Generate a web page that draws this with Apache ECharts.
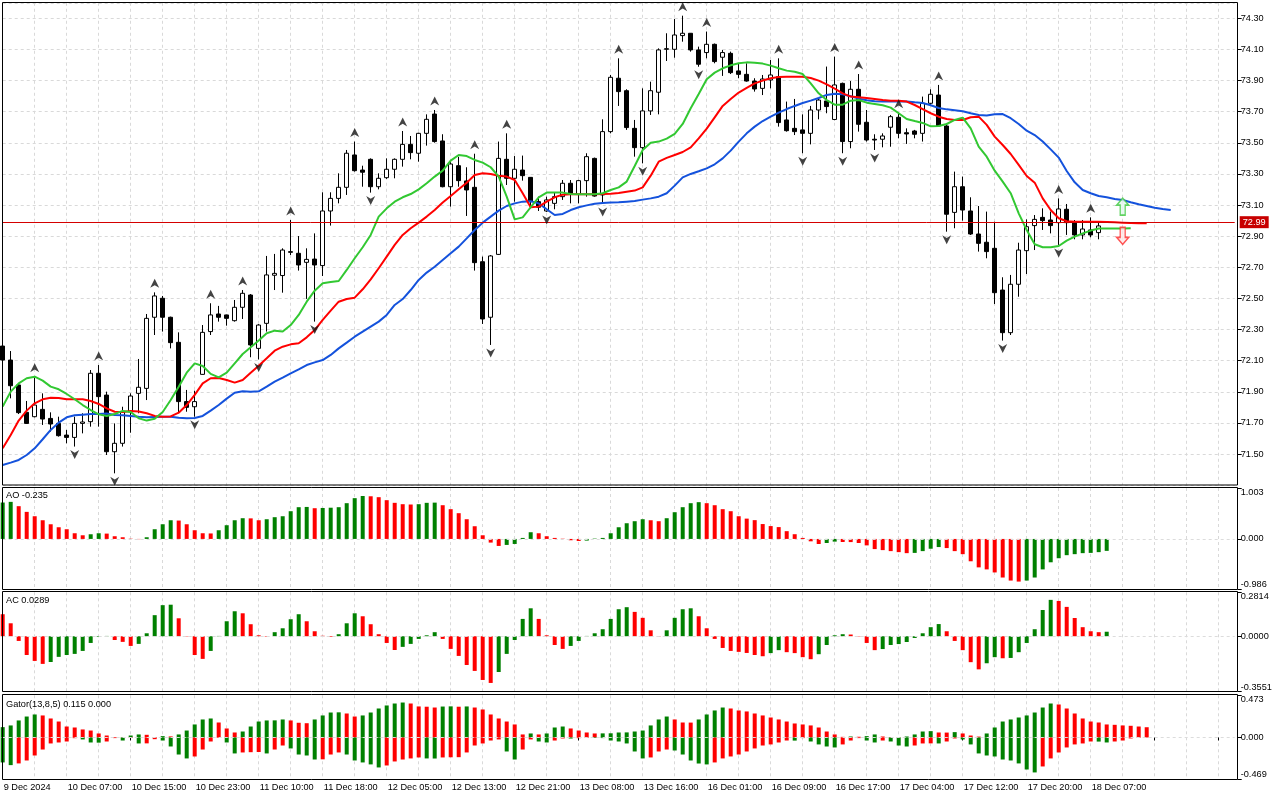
<!DOCTYPE html>
<html>
<head>
<meta charset="utf-8">
<title>Alligator, fractals, AO, AC, Gator</title>
<script src="https://cdn.jsdelivr.net/npm/echarts@6/dist/echarts.min.js"></script>
<style>
  html, body { margin: 0; padding: 0; background: #fff; }
  #chart { width: 1280px; height: 800px; }
</style>
</head>
<body>
<div id="chart"></div>
<script>
// hourly bars, 139 of them; extra empty slots on the right hold the shifted lines
const slotCount = 155

// one label every 8 bars, starting at bar 0
const tickLabels = ['9 Dec 2024', '10 Dec 07:00', '10 Dec 15:00', '10 Dec 23:00', '11 Dec 10:00', '11 Dec 18:00',
  '12 Dec 05:00', '12 Dec 13:00', '12 Dec 21:00', '13 Dec 08:00', '13 Dec 16:00', '16 Dec 01:00',
  '16 Dec 09:00', '16 Dec 17:00', '17 Dec 04:00', '17 Dec 12:00', '17 Dec 20:00', '18 Dec 07:00']

const opens = [
  72.194, 72.104, 71.944, 71.768, 71.740, 71.787, 71.729, 71.697, 71.622, 71.607,
  71.697, 71.708, 72.019, 71.879, 71.515, 71.569, 71.772, 71.890, 71.922, 72.379,
  72.501, 72.379, 72.218, 71.837, 71.804, 72.012, 72.287, 72.400, 72.394, 72.357,
  72.443, 72.522, 72.179, 72.340, 72.649, 72.647, 72.796, 72.790, 72.732, 72.753,
  72.711, 73.062, 73.143, 73.214, 73.422, 73.325, 73.394, 73.218, 73.276, 73.330,
  73.394, 73.490, 73.433, 73.561, 73.685, 73.512, 73.218, 73.353, 73.255, 73.214,
  72.736, 72.379, 72.783, 73.394, 73.272, 73.325, 73.278, 73.122, 73.062, 73.111,
  73.154, 73.240, 73.169, 73.257, 73.400, 73.165, 73.572, 73.915, 73.835, 73.593,
  73.469, 73.705, 73.825, 74.101, 74.101, 74.189, 74.204, 74.097, 74.080, 74.133,
  74.050, 74.075, 73.962, 73.940, 73.897, 73.850, 73.904, 73.925, 73.647, 73.593,
  73.583, 73.561, 73.711, 73.769, 73.650, 73.882, 73.508, 73.844, 73.632, 73.523,
  73.523, 73.600, 73.664, 73.565, 73.576, 73.561, 73.754, 73.807, 73.608, 73.053,
  73.218, 73.062, 72.914, 72.861, 72.822, 72.554, 72.280, 72.591, 72.807, 72.968,
  73.021, 73.004, 72.987, 73.073, 72.987, 72.908, 72.940, 72.923, 72.990]
const highs = [
  72.212, 72.162, 71.954, 71.841, 71.997, 71.890, 71.768, 71.740, 71.655, 71.740,
  71.762, 72.040, 72.072, 71.901, 71.697, 71.804, 71.890, 72.111, 72.400, 72.539,
  72.516, 72.383, 72.282, 71.912, 71.907, 72.329, 72.469, 72.452, 72.396, 72.490,
  72.554, 72.528, 72.335, 72.773, 72.786, 72.822, 73.004, 72.901, 72.822, 72.918,
  73.182, 73.182, 73.304, 73.454, 73.508, 73.353, 73.400, 73.304, 73.400, 73.400,
  73.576, 73.544, 73.565, 73.683, 73.711, 73.555, 73.390, 73.410, 73.343, 73.430,
  72.769, 72.779, 73.508, 73.561, 73.415, 73.418, 73.280, 73.154, 73.154, 73.180,
  73.261, 73.261, 73.262, 73.433, 73.405, 73.651, 73.936, 74.043, 73.844, 73.647,
  73.850, 73.893, 74.107, 74.204, 74.296, 74.317, 74.205, 74.118, 74.215, 74.138,
  74.097, 74.086, 74.011, 74.011, 73.915, 73.936, 74.032, 74.043, 73.765, 73.782,
  73.683, 73.737, 73.786, 73.990, 74.054, 73.887, 73.897, 73.942, 73.711, 73.555,
  73.561, 73.679, 73.694, 73.593, 73.583, 73.797, 73.844, 73.872, 73.625, 73.315,
  73.283, 73.150, 73.094, 73.058, 72.993, 72.636, 72.651, 72.858, 73.008, 73.036,
  73.079, 73.058, 73.143, 73.107, 73.004, 73.004, 73.021, 72.987, 72.995]
const lows = [
  72.094, 71.858, 71.757, 71.693, 71.736, 71.687, 71.644, 71.612, 71.569, 71.548,
  71.633, 71.676, 71.676, 71.494, 71.376, 71.548, 71.637, 71.762, 71.847, 72.265,
  72.287, 72.179, 71.762, 71.772, 71.740, 72.010, 72.265, 72.351, 72.325, 72.351,
  72.368, 72.122, 72.108, 72.287, 72.554, 72.537, 72.779, 72.679, 72.497, 72.351,
  72.644, 72.968, 73.111, 73.165, 73.315, 73.218, 73.180, 73.201, 73.268, 73.272,
  73.347, 73.394, 73.379, 73.482, 73.501, 73.214, 73.090, 73.218, 73.030, 72.679,
  72.336, 72.201, 72.779, 73.229, 73.122, 73.257, 73.079, 73.062, 73.056, 73.073,
  73.133, 73.111, 73.111, 73.154, 73.154, 73.107, 73.561, 73.737, 73.583, 73.411,
  73.368, 73.679, 73.683, 74.026, 74.047, 74.150, 74.086, 73.989, 74.043, 74.011,
  73.930, 73.942, 73.915, 73.893, 73.829, 73.807, 73.850, 73.604, 73.572, 73.550,
  73.433, 73.490, 73.651, 73.690, 73.645, 73.433, 73.465, 73.572, 73.508, 73.454,
  73.471, 73.475, 73.529, 73.493, 73.529, 73.508, 73.743, 73.604, 72.929, 72.951,
  73.000, 72.908, 72.801, 72.758, 72.464, 72.229, 72.265, 72.511, 72.657, 72.811,
  72.940, 72.918, 72.844, 72.908, 72.880, 72.880, 72.893, 72.880, 72.985]
const closes = [
  72.104, 71.939, 71.766, 71.697, 71.815, 71.725, 71.693, 71.618, 71.607, 71.697,
  71.706, 72.019, 71.869, 71.515, 71.569, 71.772, 71.873, 71.929, 72.372, 72.516,
  72.379, 72.216, 71.837, 71.800, 71.837, 72.282, 72.394, 72.379, 72.372, 72.443,
  72.533, 72.201, 72.329, 72.651, 72.661, 72.811, 72.801, 72.715, 72.751, 72.715,
  73.062, 73.143, 73.214, 73.433, 73.321, 73.311, 73.218, 73.272, 73.330, 73.394,
  73.490, 73.437, 73.561, 73.651, 73.508, 73.218, 73.364, 73.257, 73.197, 72.730,
  72.368, 72.773, 73.400, 73.272, 73.330, 73.289, 73.122, 73.086, 73.133, 73.154,
  73.240, 73.169, 73.257, 73.411, 73.158, 73.572, 73.921, 73.829, 73.598, 73.469,
  73.705, 73.835, 74.097, 74.105, 74.193, 74.204, 74.097, 74.005, 74.133, 74.022,
  74.080, 73.951, 73.940, 73.897, 73.846, 73.910, 73.936, 73.630, 73.578, 73.572,
  73.561, 73.711, 73.775, 73.733, 73.872, 73.508, 73.844, 73.619, 73.518, 73.518,
  73.544, 73.668, 73.561, 73.557, 73.555, 73.754, 73.812, 73.608, 73.041, 73.218,
  73.068, 72.914, 72.854, 72.801, 72.537, 72.280, 72.591, 72.811, 72.961, 73.008,
  73.000, 72.968, 73.075, 72.987, 72.908, 72.946, 72.908, 72.966, 72.990]

// alligator lines as drawn (already shifted 8 / 5 / 3 bars forward)
const jaw = [
  71.430, 71.445, 71.462, 71.494, 71.537, 71.595, 71.655, 71.702, 71.736, 71.749,
  71.753, 71.757, 71.757, 71.760, 71.751, 71.749, 71.745, 71.740, 71.736, 71.738,
  71.740, 71.740, 71.734, 71.730, 71.732, 71.745, 71.779, 71.815, 71.856, 71.894,
  71.903, 71.901, 71.903, 71.933, 71.965, 71.991, 72.019, 72.044, 72.072, 72.089,
  72.104, 72.137, 72.179, 72.216, 72.254, 72.287, 72.319, 72.351, 72.394, 72.458,
  72.496, 72.554, 72.619, 72.666, 72.704, 72.747, 72.790, 72.833, 72.886, 72.940,
  72.987, 73.026, 73.064, 73.094, 73.111, 73.122, 73.124, 73.111, 73.073, 73.036,
  73.043, 73.068, 73.086, 73.098, 73.109, 73.113, 73.116, 73.118, 73.122, 73.126,
  73.135, 73.143, 73.154, 73.176, 73.225, 73.278, 73.300, 73.317, 73.336, 73.362,
  73.400, 73.450, 73.508, 73.561, 73.604, 73.640, 73.668, 73.694, 73.717, 73.737,
  73.756, 73.771, 73.788, 73.808, 73.816, 73.812, 73.799, 73.784, 73.773, 73.767,
  73.765, 73.765, 73.765, 73.765, 73.760, 73.756, 73.741, 73.724, 73.715, 73.709,
  73.703, 73.690, 73.679, 73.675, 73.683, 73.685, 73.658, 73.621, 73.578, 73.550,
  73.508, 73.458, 73.405, 73.319, 73.246, 73.197, 73.176, 73.158, 73.150, 73.139,
  73.133, 73.118, 73.105, 73.094, 73.083, 73.075, 73.068]
const teeth = [
  71.537, 71.622, 71.715, 71.779, 71.826, 71.852, 71.862, 71.860, 71.852, 71.852,
  71.852, 71.841, 71.822, 71.794, 71.772, 71.770, 71.777, 71.774, 71.762, 71.745,
  71.740, 71.742, 71.766, 71.815, 71.880, 71.954, 71.987, 71.989, 71.976, 71.959,
  71.976, 72.023, 72.068, 72.115, 72.164, 72.190, 72.205, 72.212, 72.250, 72.297,
  72.362, 72.422, 72.479, 72.496, 72.505, 72.559, 72.623, 72.694, 72.769, 72.844,
  72.908, 72.951, 72.987, 73.026, 73.068, 73.116, 73.158, 73.201, 73.244, 73.293,
  73.304, 73.300, 73.289, 73.283, 73.261, 73.176, 73.086, 73.090, 73.122, 73.150,
  73.167, 73.169, 73.169, 73.169, 73.169, 73.171, 73.173, 73.178, 73.186, 73.193,
  73.214, 73.289, 73.379, 73.403, 73.422, 73.441, 73.471, 73.529, 73.591, 73.664,
  73.737, 73.782, 73.823, 73.853, 73.882, 73.900, 73.915, 73.923, 73.925, 73.925,
  73.925, 73.917, 73.900, 73.876, 73.848, 73.818, 73.797, 73.793, 73.788, 73.782,
  73.775, 73.771, 73.771, 73.765, 73.743, 73.717, 73.690, 73.668, 73.653, 73.647,
  73.647, 73.664, 73.668, 73.615, 73.540, 73.486, 73.428, 73.358, 73.287, 73.244,
  73.143, 73.068, 73.015, 72.996, 72.993, 72.993, 72.993, 72.993, 72.991, 72.989,
  72.987, 72.985, 72.983, 72.983]
const lips = [
  71.805, 71.901, 71.954, 71.987, 71.997, 71.972, 71.933, 71.916, 71.886, 71.852,
  71.815, 71.783, 71.755, 71.745, 71.757, 71.777, 71.770, 71.730, 71.715, 71.727,
  71.770, 71.847, 71.933, 72.023, 72.083, 72.066, 72.015, 71.993, 72.023, 72.083,
  72.143, 72.186, 72.229, 72.276, 72.293, 72.287, 72.329, 72.394, 72.479, 72.550,
  72.597, 72.606, 72.612, 72.683, 72.758, 72.829, 72.908, 73.026, 73.079, 73.122,
  73.150, 73.171, 73.201, 73.240, 73.283, 73.321, 73.386, 73.422, 73.415, 73.390,
  73.373, 73.343, 73.283, 73.154, 73.008, 73.021, 73.086, 73.150, 73.180, 73.180,
  73.180, 73.171, 73.169, 73.169, 73.169, 73.176, 73.197, 73.214, 73.251, 73.351,
  73.454, 73.501, 73.508, 73.527, 73.557, 73.621, 73.722, 73.814, 73.908, 73.951,
  73.979, 73.998, 74.011, 74.017, 74.015, 74.009, 73.996, 73.979, 73.964, 73.957,
  73.942, 73.882, 73.818, 73.775, 73.745, 73.745, 73.771, 73.775, 73.758, 73.750,
  73.741, 73.726, 73.690, 73.653, 73.640, 73.628, 73.606, 73.608, 73.621, 73.647,
  73.662, 73.593, 73.475, 73.411, 73.321, 73.251, 73.176, 73.047, 72.940, 72.848,
  72.829, 72.829, 72.837, 72.871, 72.897, 72.918, 72.936, 72.949, 72.949, 72.949,
  72.949, 72.951]

// bar indexes carrying a fractal
const upFractals = [4, 12, 19, 26, 30, 36, 44, 50, 54, 59, 63, 77, 85, 88, 97, 104, 107, 112, 117, 132, 136]
const downFractals = [9, 14, 24, 32, 39, 46, 61, 68, 75, 80, 87, 100, 105, 109, 118, 125, 132]

// the two hollow signal arrows right of the last bar
const signalUp = [[140, 73.09]]
const signalDown = [[140, 72.902]]

const ao = [
  0.717, 0.730, 0.645, 0.533, 0.447, 0.368, 0.289, 0.230, 0.191, 0.112,
  0.072, 0.092, 0.112, 0.105, 0.053, 0.033, 0.005, -0.005, 0.033, 0.191,
  0.289, 0.368, 0.362, 0.289, 0.171, 0.112, 0.108, 0.171, 0.270, 0.368,
  0.408, 0.405, 0.368, 0.388, 0.428, 0.447, 0.546, 0.625, 0.630, 0.605,
  0.610, 0.615, 0.625, 0.704, 0.803, 0.845, 0.840, 0.822, 0.763, 0.711,
  0.684, 0.678, 0.684, 0.711, 0.715, 0.664, 0.586, 0.507, 0.388, 0.250,
  0.072, -0.072, -0.138, -0.118, -0.099, 0.020, 0.132, 0.112, 0.053, 0.020,
  0.005, -0.026, -0.040, -0.033, 0.007, 0.020, 0.112, 0.230, 0.309, 0.349,
  0.388, 0.368, 0.349, 0.408, 0.526, 0.625, 0.704, 0.724, 0.704, 0.664,
  0.586, 0.546, 0.447, 0.400, 0.370, 0.293, 0.253, 0.233, 0.153, 0.093,
  0.020, -0.047, -0.100, -0.080, -0.053, -0.060, -0.062, -0.080, -0.127, -0.200,
  -0.220, -0.240, -0.260, -0.280, -0.275, -0.240, -0.193, -0.160, -0.180, -0.240,
  -0.300, -0.440, -0.560, -0.600, -0.660, -0.760, -0.820, -0.840, -0.820, -0.760,
  -0.600, -0.460, -0.380, -0.320, -0.300, -0.280, -0.275, -0.260, -0.235]
const ac = [
  0.141, 0.083, -0.030, -0.120, -0.158, -0.177, -0.165, -0.132, -0.120, -0.113,
  -0.094, -0.043, -0.004, 0.002, -0.024, -0.036, -0.062, -0.049, 0.019, 0.135,
  0.199, 0.202, 0.115, -0.002, -0.120, -0.145, -0.094, 0.002, 0.096, 0.160,
  0.147, 0.077, 0.006, -0.003, 0.026, 0.051, 0.109, 0.141, 0.096, 0.032,
  0.003, -0.004, 0.013, 0.083, 0.147, 0.128, 0.077, 0.013, -0.043, -0.088,
  -0.068, -0.049, -0.017, 0.006, 0.026, -0.017, -0.081, -0.126, -0.184, -0.222,
  -0.280, -0.299, -0.229, -0.113, -0.024, 0.111, 0.179, 0.111, 0.006, -0.056,
  -0.081, -0.062, -0.030, 0.002, 0.019, 0.045, 0.111, 0.173, 0.186, 0.156,
  0.118, 0.038, -0.002, 0.038, 0.118, 0.173, 0.179, 0.128, 0.051, -0.017,
  -0.075, -0.094, -0.100, -0.107, -0.120, -0.128, -0.108, -0.089, -0.102, -0.108,
  -0.134, -0.147, -0.115, -0.056, 0.006, 0.013, 0.011, -0.002, -0.043, -0.089,
  -0.082, -0.056, -0.050, -0.037, -0.011, 0.019, 0.058, 0.078, 0.032, -0.030,
  -0.089, -0.166, -0.212, -0.173, -0.134, -0.141, -0.139, -0.102, -0.043, 0.045,
  0.168, 0.233, 0.226, 0.188, 0.117, 0.058, 0.032, 0.026, 0.0289]
const gatorUp = [
  0.116, 0.135, 0.191, 0.235, 0.258, 0.247, 0.213, 0.179, 0.123, 0.112,
  0.090, 0.078, 0.045, 0.022, 0.004, 0.002, 0.022, 0.034, 0.030, 0.004,
  0.015, 0.012, 0.034, 0.078, 0.146, 0.202, 0.213, 0.168, 0.101, 0.056,
  0.067, 0.123, 0.179, 0.191, 0.192, 0.202, 0.191, 0.165, 0.160, 0.202,
  0.247, 0.280, 0.282, 0.269, 0.235, 0.247, 0.280, 0.325, 0.359, 0.381,
  0.392, 0.381, 0.348, 0.345, 0.336, 0.347, 0.349, 0.345, 0.348, 0.336,
  0.314, 0.258, 0.213, 0.179, 0.146, 0.034, 0.045, 0.034, 0.045, 0.112,
  0.123, 0.101, 0.078, 0.056, 0.045, 0.046, 0.047, 0.056, 0.057, 0.067,
  0.078, 0.135, 0.202, 0.235, 0.202, 0.168, 0.167, 0.202, 0.258, 0.303,
  0.336, 0.325, 0.303, 0.292, 0.269, 0.247, 0.224, 0.202, 0.179, 0.157,
  0.146, 0.135, 0.112, 0.067, 0.034, 0.007, 0.011, 0.008, 0.015, 0.034,
  0.011, 0.004, 0.003, 0.011, 0.034, 0.067, 0.071, 0.056, 0.055, 0.060,
  0.045, 0.022, 0.010, 0.045, 0.112, 0.179, 0.202, 0.224, 0.247, 0.280,
  0.336, 0.381, 0.370, 0.325, 0.269, 0.213, 0.179, 0.168, 0.146, 0.142,
  0.135, 0.131, 0.123, 0.115]
const gatorDown = [
  -0.280, -0.310, -0.291, -0.258, -0.202, -0.135, -0.067, -0.056, -0.045, -0.008,
  -0.022, -0.056, -0.058, -0.045, -0.007, -0.034, -0.004, -0.067, -0.066, -0.019,
  -0.034, -0.101, -0.191, -0.235, -0.213, -0.135, -0.045, -0.004, -0.056, -0.179,
  -0.168, -0.165, -0.163, -0.179, -0.135, -0.090, -0.123, -0.191, -0.202, -0.247,
  -0.245, -0.191, -0.168, -0.191, -0.258, -0.280, -0.302, -0.336, -0.314, -0.269,
  -0.247, -0.235, -0.224, -0.235, -0.236, -0.224, -0.222, -0.221, -0.168, -0.090,
  -0.067, -0.034, -0.022, -0.157, -0.247, -0.135, -0.022, -0.045, -0.056, -0.034,
  -0.011, -0.012, -0.008, -0.004, -0.006, -0.007, -0.034, -0.045, -0.067, -0.157,
  -0.235, -0.224, -0.157, -0.135, -0.146, -0.191, -0.258, -0.292, -0.302, -0.280,
  -0.235, -0.213, -0.191, -0.157, -0.123, -0.090, -0.078, -0.056, -0.034, -0.035,
  -0.007, -0.045, -0.078, -0.101, -0.112, -0.078, -0.034, -0.007, -0.034, -0.056,
  -0.034, -0.045, -0.090, -0.101, -0.090, -0.067, -0.066, -0.067, -0.045, -0.011,
  -0.022, -0.078, -0.179, -0.202, -0.213, -0.247, -0.258, -0.291, -0.359, -0.392,
  -0.325, -0.235, -0.168, -0.112, -0.078, -0.067, -0.045, -0.046, -0.056, -0.045,
  -0.034, -0.011, -0.004, 0]

// value just before the first visible bar, only used to colour bar 0
const aoBefore = 0.70
const acBefore = 0.17
const gatorUpBefore = 0.10
const gatorDownBefore = -0.26

const GREEN = '#008000'
const RED = '#ff0000'
const GRID = '#d9d9d9'
const FONT = 'Liberation Sans'
const FS = 9.2

const chart = echarts.init(document.getElementById('chart'))

const slots = Array.from({ length: slotCount }, (_, i) => String(i))
const candles = opens.map((o, i) => [o, closes[i], lows[i], highs[i]])
const lastClose = closes[closes.length - 1]

// green when the bar grew against the previous one, red otherwise
function histData(values, before, byMagnitude) {
  return values.map((v, i) => {
    const prev = i === 0 ? before : values[i - 1]
    const a = byMagnitude ? Math.abs(v) : v
    const b = byMagnitude ? Math.abs(prev) : prev
    return { value: v, itemStyle: { color: a > b ? GREEN : RED } }
  })
}

const plotLeft = 2.7
const plotWidth = 8 * (slotCount - 1)
const panels = [
  { top: 2.77, height: 482.4 },
  { top: 488, height: 101 },
  { top: 592.3, height: 99.4 },
  { top: 695.3, height: 84 }
]
// frames: [y, height]
const frames = [[2.5, 482.5], [487.5, 102], [591.5, 100], [694.5, 85]]

function timeAxis(gridIndex, withLabels) {
  return {
    type: 'category',
    gridIndex: gridIndex,
    data: slots,
    boundaryGap: false,
    axisLine: { show: false },
    axisTick: { show: withLabels, interval: 7, length: 3, lineStyle: { color: '#000' } },
    axisLabel: {
      show: withLabels,
      interval: 7,
      align: 'left',
      margin: 4,
      padding: [0, 0, 0, 1],
      color: '#000',
      fontFamily: FONT,
      fontSize: FS,
      formatter: (v, i) => tickLabels[i / 8] || ''
    },
    splitLine: { show: true, interval: 3, lineStyle: { color: GRID, type: [3, 3] } }
  }
}

function indicatorAxis(gridIndex, lo, hi, digits) {
  return {
    type: 'value',
    gridIndex: gridIndex,
    position: 'right',
    offset: 3,
    min: lo,
    max: hi,
    axisLine: { show: false },
    splitLine: { show: false },
    axisTick: { show: true, length: 4, customValues: [lo, 0, hi], lineStyle: { color: '#000' } },
    axisLabel: {
      customValues: [lo, 0, hi],
      margin: 3,
      color: '#000',
      fontFamily: FONT,
      fontSize: FS,
      verticalAlignMinLabel: 'bottom',
      verticalAlignMaxLabel: 'top',
      formatter: v => v.toFixed(digits)
    }
  }
}

const zeroLine = {
  silent: true,
  symbol: ['none', 'none'],
  label: { show: false },
  lineStyle: { color: '#dcdcdc', type: [3, 3], width: 1 },
  data: [{ yAxis: 0 }]
}

const titleStyle = { fontFamily: FONT, fontSize: FS, fontWeight: 'normal', color: '#000' }

const option = {
  animation: false,
  backgroundColor: '#fff',
  title: [
    { text: 'AO ' + ao[ao.length - 1].toFixed(3), left: 6, top: 491, padding: 0, textStyle: titleStyle },
    { text: 'AC ' + ac[ac.length - 1].toFixed(4), left: 6, top: 596, padding: 0, textStyle: titleStyle },
    {
      text: 'Gator(13,8,5) ' + gatorUp[gatorUp.length - 1].toFixed(3) + ' ' +
        Math.abs(gatorDown[gatorDown.length - 1]).toFixed(3),
      left: 6, top: 699.5, padding: 0, textStyle: titleStyle
    }
  ],
  grid: panels.map(p => ({ left: plotLeft, width: plotWidth, top: p.top, height: p.height })),
  xAxis: [timeAxis(0, false), timeAxis(1, false), timeAxis(2, false), timeAxis(3, true)],
  yAxis: [
    {
      type: 'value',
      gridIndex: 0,
      position: 'right',
      offset: 3,
      min: 71.3,
      max: 74.4,
      interval: 0.2,
      axisLine: { show: false },
      axisTick: { show: true, length: 4, lineStyle: { color: '#000' } },
      axisLabel: {
        color: '#000', fontFamily: FONT, fontSize: FS, margin: 3,
        showMinLabel: false, showMaxLabel: false,
        formatter: v => v.toFixed(2)
      },
      splitLine: { show: true, lineStyle: { color: GRID, type: [3, 3] } }
    },
    indicatorAxis(1, -0.986, 1.003, 3),
    indicatorAxis(2, -0.3551, 0.2814, 4),
    indicatorAxis(3, -0.469, 0.473, 3)
  ],
  graphic: frames.map(f => ({
    type: 'rect',
    silent: true,
    z: 100,
    shape: { x: 2.5, y: f[0], width: 1235, height: f[1] },
    style: { fill: 'none', stroke: '#000', lineWidth: 1 }
  })),
  series: [
    {
      name: 'price',
      type: 'candlestick',
      xAxisIndex: 0,
      yAxisIndex: 0,
      data: candles,
      barWidth: 5,
      itemStyle: { color: '#fff', color0: '#000', borderColor: '#000', borderColor0: '#000', borderWidth: 1 },
      markLine: {
        silent: true,
        symbol: ['none', 'none'],
        lineStyle: { color: '#d40000', width: 1, type: 'solid' },
        label: {
          position: 'end',
          distance: 5,
          formatter: lastClose.toFixed(2),
          color: '#fff',
          backgroundColor: '#c80000',
          padding: [2, 3, 1, 3],
          fontFamily: FONT,
          fontSize: FS
        },
        data: [{ yAxis: lastClose }]
      }
    },
    {
      name: 'jaw', type: 'line', xAxisIndex: 0, yAxisIndex: 0, data: jaw,
      showSymbol: false, lineStyle: { color: '#1452dc', width: 2 }
    },
    {
      name: 'teeth', type: 'line', xAxisIndex: 0, yAxisIndex: 0, data: teeth,
      showSymbol: false, lineStyle: { color: '#ff0000', width: 2 }
    },
    {
      name: 'lips', type: 'line', xAxisIndex: 0, yAxisIndex: 0, data: lips,
      showSymbol: false, lineStyle: { color: '#32c832', width: 2 }
    },
    {
      name: 'fractal up', type: 'scatter', xAxisIndex: 0, yAxisIndex: 0, z: 5,
      data: upFractals.map(i => [i, highs[i]]),
      symbol: 'path://M5 0 L10 10 L5 7 L0 10 Z',
      symbolSize: [9, 9],
      symbolOffset: [0, -9],
      itemStyle: { color: '#141414' }
    },
    {
      name: 'fractal down', type: 'scatter', xAxisIndex: 0, yAxisIndex: 0, z: 5,
      data: downFractals.map(i => [i, lows[i]]),
      symbol: 'path://M0 0 L5 3 L10 0 L5 10 Z',
      symbolSize: [9, 9],
      symbolOffset: [0, 8],
      itemStyle: { color: '#141414' }
    },
    {
      name: 'signal up', type: 'scatter', xAxisIndex: 0, yAxisIndex: 0, z: 6,
      data: signalUp,
      symbol: 'path://M6 0 L12 7 L8.5 7 L8.5 17 L3.5 17 L3.5 7 L0 7 Z',
      symbolSize: [12, 17],
      itemStyle: { color: '#e2f7ee', borderColor: '#3cc83c', borderWidth: 1.5 }
    },
    {
      name: 'signal down', type: 'scatter', xAxisIndex: 0, yAxisIndex: 0, z: 6,
      data: signalDown,
      symbol: 'path://M3.5 0 L8.5 0 L8.5 10 L12 10 L6 17 L0 10 L3.5 10 Z',
      symbolSize: [12, 17],
      itemStyle: { color: '#ffe6e6', borderColor: '#ff2a2a', borderWidth: 1.5 }
    },
    {
      name: 'AO', type: 'bar', xAxisIndex: 1, yAxisIndex: 1, barWidth: 4,
      data: histData(ao, aoBefore, false), markLine: zeroLine
    },
    {
      name: 'AC', type: 'bar', xAxisIndex: 2, yAxisIndex: 2, barWidth: 4,
      data: histData(ac, acBefore, false), markLine: zeroLine
    },
    {
      name: 'Gator up', type: 'bar', xAxisIndex: 3, yAxisIndex: 3, barWidth: 4, barGap: '-100%',
      data: histData(gatorUp, gatorUpBefore, true)
    },
    {
      name: 'Gator down', type: 'bar', xAxisIndex: 3, yAxisIndex: 3, barWidth: 4, barGap: '-100%',
      data: histData(gatorDown, gatorDownBefore, true), markLine: zeroLine
    }
  ]
}

chart.setOption(option)
</script>
</body>
</html>
